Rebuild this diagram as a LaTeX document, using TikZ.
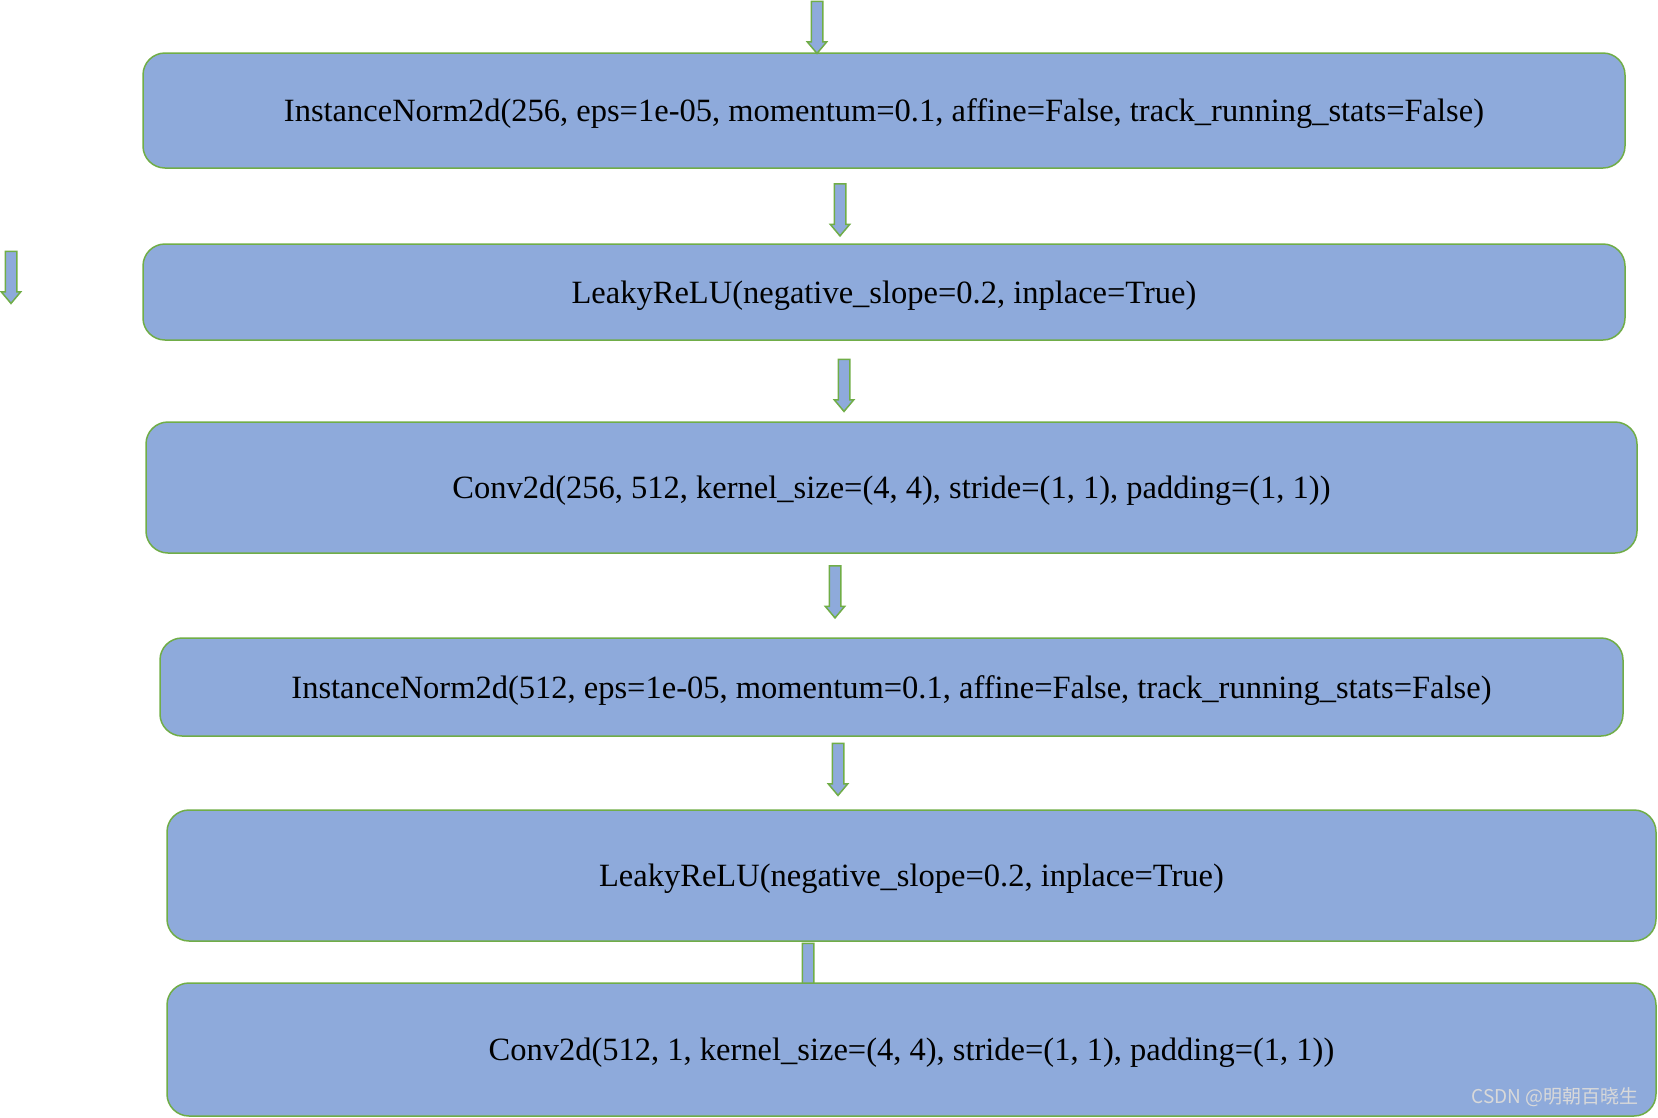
\documentclass[tikz,border=0pt]{standalone}
\usepackage{fontspec}
\setmainfont{Liberation Serif}
\newfontfamily\cjk{Noto Sans CJK SC}
\usepackage{tikz}
\usetikzlibrary{shapes.arrows,positioning}
\definecolor{boxfill}{HTML}{8EAADB}
\definecolor{boxline}{HTML}{70AD47}
\definecolor{mark}{HTML}{D9D9D9}
\tikzset{
  layer_box/.style={draw=boxline,fill=boxfill,line width=1.5pt,rounded corners=22pt,
    inner sep=0pt,text depth=0pt,font=\fontsize{32.5}{38}\selectfont,align=center},
  blk_arr/.style={single arrow,draw=boxline,fill=boxfill,line width=1.5pt,
    shape border rotate=270,inner sep=5pt,
    single arrow head extend=4pt,single arrow tip angle=80,minimum height=52pt},
}
\begin{document}
\begin{tikzpicture}[x=1pt,y=-1pt]
  \useasboundingbox (0,0) rectangle (1658,1117);
  % layers
  \node[layer_box,minimum width=1482pt,minimum height=115pt] (norm1) at (884,110.5)
    {InstanceNorm2d(256, eps=1e-05, momentum=0.1, affine=False, track\_running\_stats=False)};
  \node[layer_box,minimum width=1482pt,minimum height=96pt] (relu1) at (884,292)
    {LeakyReLU(negative\_slope=0.2, inplace=True)};
  \node[layer_box,minimum width=1491pt,minimum height=131pt] (conv1) at (891.5,487.5)
    {Conv2d(256, 512, kernel\_size=(4, 4), stride=(1, 1), padding=(1, 1))};
  \node[layer_box,minimum width=1463pt,minimum height=98pt] (norm2) at (891.5,687)
    {InstanceNorm2d(512, eps=1e-05, momentum=0.1, affine=False, track\_running\_stats=False)};
  \node[layer_box,minimum width=1489pt,minimum height=131pt] (relu2) at (911.5,875.5)
    {LeakyReLU(negative\_slope=0.2, inplace=True)};
  % block arrows
  \node[blk_arr] (a0) at (817,24) {};
  \node[blk_arr] (a1) at (840,206.5) {};
  \node[blk_arr] (aside) at (11,274) {};
  \node[blk_arr] (a2) at (844,382) {};
  \node[blk_arr] (a3) at (835,588.5) {};
  \node[blk_arr] (a4) at (838,766) {};
  \node[blk_arr] (a5) at (808,966) {};
  \node[layer_box,minimum width=1489pt,minimum height=133pt] (conv2) at (911.5,1049.5)
    {Conv2d(512, 1, kernel\_size=(4, 4), stride=(1, 1), padding=(1, 1))};
  \node[font=\cjk\fontsize{19}{21}\selectfont,text=mark] (wm) at (1555,1097) {CSDN @明朝百晓生};
\end{tikzpicture}
\end{document}
